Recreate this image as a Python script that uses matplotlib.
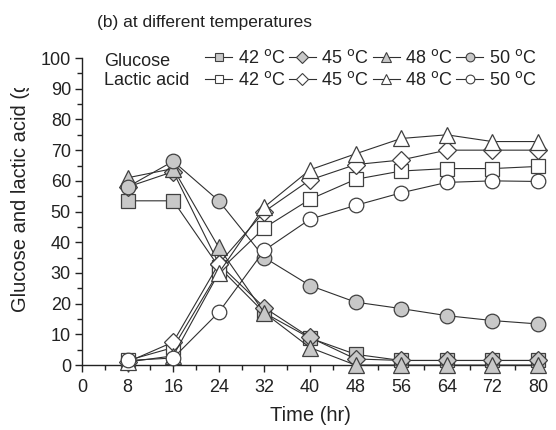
import matplotlib
matplotlib.use("Agg")
import matplotlib.pyplot as plt
from matplotlib.lines import Line2D
from matplotlib.patches import Rectangle
import numpy as np

plt.rcParams['font.family'] = ['Liberation Sans', 'DejaVu Sans']

# time points (hr)
time = [8, 16, 24, 32, 40, 48, 56, 64, 72, 80]

# glucose (g/L)
glc_42 = [53.5, 53.5, 32, 17, 8.8, 3.5, 1.5, 1.5, 1.5, 1.5]
glc_45 = [58, 63, 33, 18.7, 9, 2, 1.5, 1.5, 1.5, 1.5]
glc_48 = [61, 64, 38.3, 17, 5.7, 0, 0, 0, 0, 0]
glc_50 = [58, 66.4, 53.5, 35, 25.9, 20.5, 18.4, 16.1, 14.5, 13.4]

# lactic acid (g/L)
lac_42 = [1.5, 5.7, 30.5, 44.7, 54, 60.5, 63.2, 64, 64, 64.7]
lac_45 = [1, 7.5, 33, 50, 60.3, 65.3, 66.8, 70, 70, 70]
lac_48 = [1, 3, 30, 51.5, 63.6, 68.8, 73.8, 75, 72.8, 72.8]
lac_50 = [1.5, 2.3, 17.2, 37.4, 47.5, 52, 56.1, 59.5, 60, 59.8]

temps = ["42", "45", "48", "50"]
markers = ["s", "D", "^", "o"]
msizes = [10.5, 9.5, 11.5, 10.5]

fig = plt.figure(figsize=(5.56, 4.30), dpi=100)
ax = fig.add_axes([0.1475, 0.151, 0.820, 0.714])

edge = "#404040"
gray = "#c8c8c8"
ink = "#222222"

glucose = [glc_42, glc_45, glc_48, glc_50]
lactic = [lac_42, lac_45, lac_48, lac_50]

for vals, m, ms in zip(glucose, markers, msizes):
    ax.plot(time, vals, color="#303030", lw=0.8, marker=m, ms=ms,
            mfc=gray, mec=edge, mew=0.9, clip_on=False, zorder=3)
for vals, m, ms in zip(lactic, markers, msizes):
    ax.plot(time, vals, color="#303030", lw=0.8, marker=m, ms=ms,
            mfc="white", mec=edge, mew=0.9, clip_on=False, zorder=4)

ax.set_xlim(0, 80)
ax.set_ylim(0, 100)
ax.set_xticks(np.arange(0, 81, 8))
ax.set_xticks(np.arange(0, 81, 4), minor=True)
ax.set_yticks(np.arange(0, 101, 10))
ax.set_yticks(np.arange(0, 101, 5), minor=True)
ax.spines["top"].set_visible(False)
ax.spines["right"].set_visible(False)
for s in ["left", "bottom"]:
    ax.spines[s].set_color(ink)
    ax.spines[s].set_linewidth(1.0)
ax.tick_params(which="major", direction="out", length=5, width=1.0,
               labelsize=13, colors=ink)
ax.tick_params(which="minor", direction="out", length=3.5, width=1.0,
               colors=ink)
ax.tick_params(axis="x", pad=5)
ax.tick_params(axis="y", pad=3)

ax.set_xlabel("Time (hr)", fontsize=14.5, color=ink, labelpad=7)

# y label, cut off at the top like the source image
fig.text(0.036, 1 - 312 / 430, "Glucose and lactic acid (g/L)", rotation=90,
         ha="center", va="bottom", fontsize=14.5, color=ink)
fig.add_artist(Rectangle((0, 1 - 88 / 430), 0.068, 88 / 430,
                         transform=fig.transFigure, facecolor="white",
                         edgecolor="none", zorder=10))

fig.text(97 / 556, 1 - 23 / 430, "(b) at different temperatures",
         fontsize=12.5, color=ink, ha="left", va="center")

# legend rows
def make_handles(face):
    return [Line2D([], [], color="#303030", lw=0.8, marker=m, ms=ms * 0.6,
                   mfc=face, mec=edge, mew=0.8)
            for m, ms in zip(markers, msizes)]

labels = [t + r" $^{\mathrm{o}}$C" for t in temps]
kw = dict(ncol=4, frameon=False, fontsize=13, handlelength=1.5,
          handletextpad=0.3, columnspacing=0.2, borderaxespad=0,
          borderpad=0, loc="center left", labelcolor=ink)
leg1 = ax.legend(make_handles(gray), labels,
                 bbox_to_anchor=(0.27, 1.0), **kw)
ax.add_artist(leg1)
leg2 = ax.legend(make_handles("white"), labels,
                 bbox_to_anchor=(0.27, 0.928), **kw)

ax.text(0.048, 0.99, "Glucose", transform=ax.transAxes, fontsize=13,
        color=ink, va="center")
ax.text(0.048, 0.928, "Lactic acid", transform=ax.transAxes, fontsize=13,
        color=ink, va="center")

fig.savefig("out.png", dpi=100)
